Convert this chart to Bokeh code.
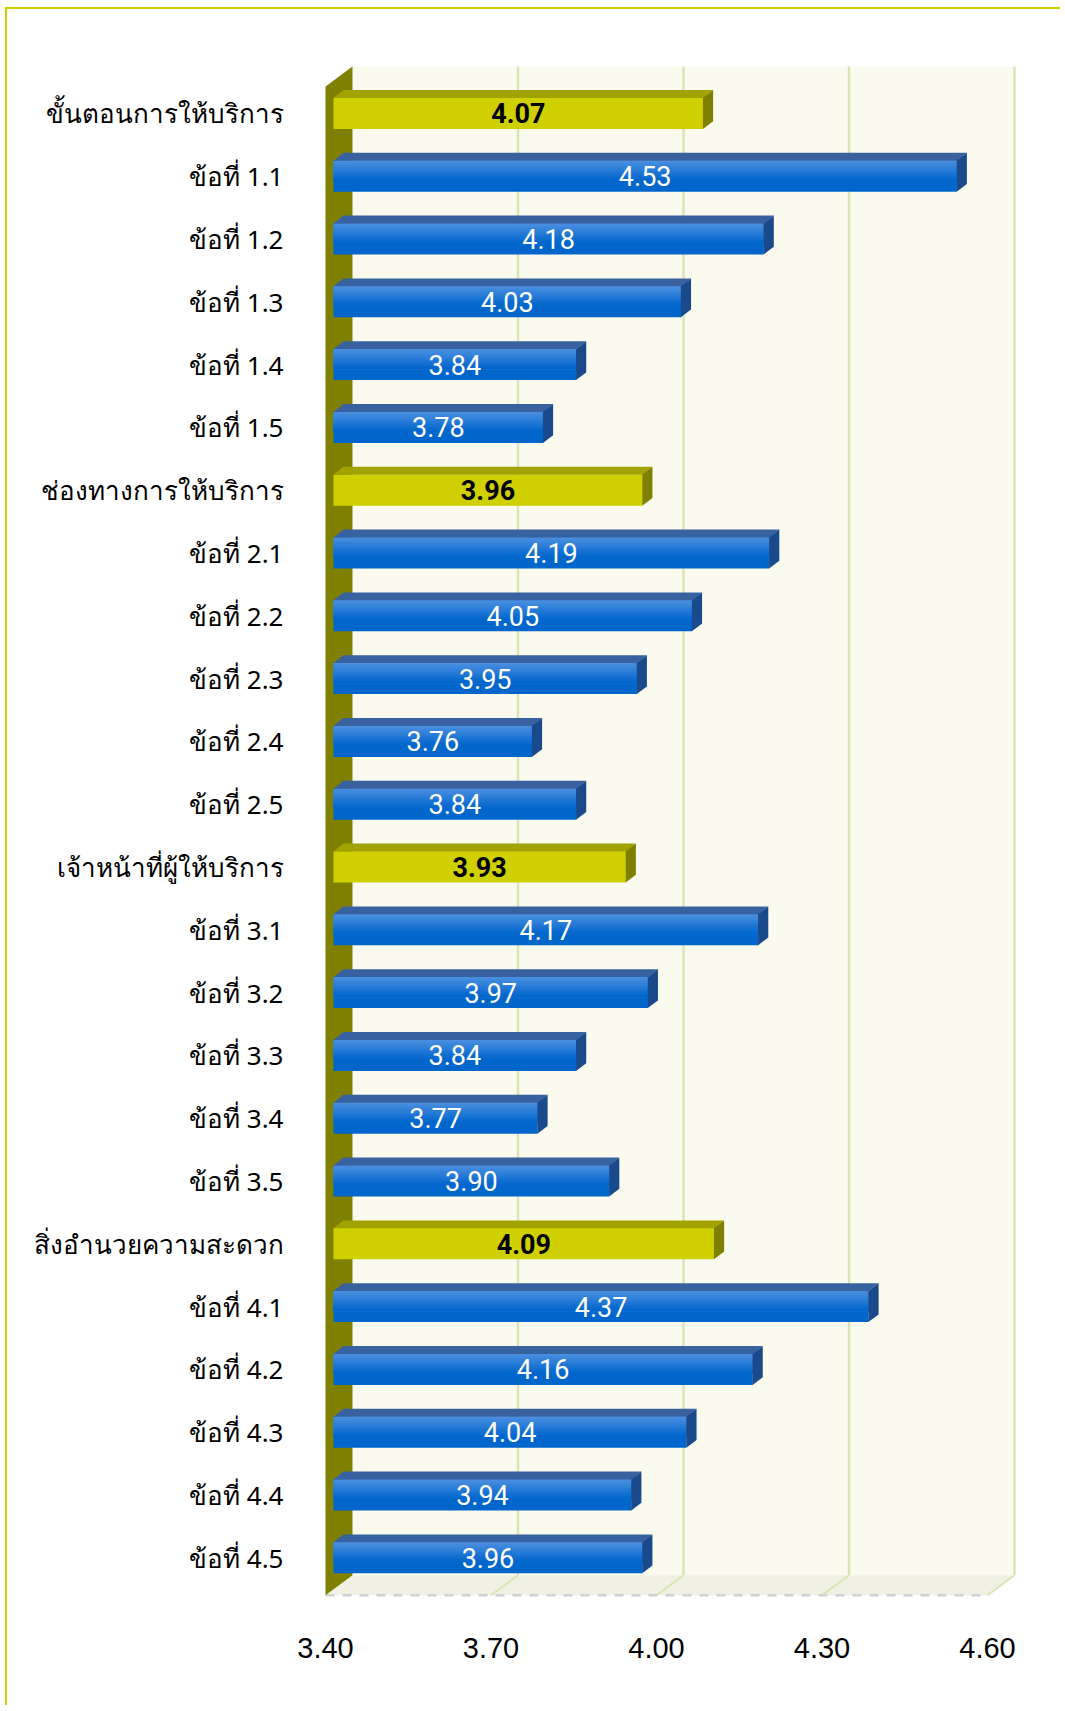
from bokeh.plotting import figure
from bokeh.models import Range1d, FixedTicker, ColumnDataSource, NumeralTickFormatter
from bokeh.core.properties import value
from bokeh.embed import file_html
from bokeh.resources import INLINE

# ---------------- data ----------------
categories = [
    "ขั้นตอนการให้บริการ", "ข้อที่ 1.1", "ข้อที่ 1.2", "ข้อที่ 1.3", "ข้อที่ 1.4", "ข้อที่ 1.5",
    "ช่องทางการให้บริการ", "ข้อที่ 2.1", "ข้อที่ 2.2", "ข้อที่ 2.3", "ข้อที่ 2.4", "ข้อที่ 2.5",
    "เจ้าหน้าที่ผู้ให้บริการ", "ข้อที่ 3.1", "ข้อที่ 3.2", "ข้อที่ 3.3", "ข้อที่ 3.4", "ข้อที่ 3.5",
    "สิ่งอำนวยความสะดวก", "ข้อที่ 4.1", "ข้อที่ 4.2", "ข้อที่ 4.3", "ข้อที่ 4.4", "ข้อที่ 4.5",
]
scores = [
    4.07, 4.53, 4.18, 4.03, 3.84, 3.78,
    3.96, 4.19, 4.05, 3.95, 3.76, 3.84,
    3.93, 4.17, 3.97, 3.84, 3.77, 3.90,
    4.09, 4.37, 4.16, 4.04, 3.94, 3.96,
]
group_headers = ["ขั้นตอนการให้บริการ", "ช่องทางการให้บริการ", "เจ้าหน้าที่ผู้ให้บริการ", "สิ่งอำนวยความสะดวก"]
x_ticks = [3.40, 3.70, 4.00, 4.30, 4.60]
x_tick_labels = ["3.40", "3.70", "4.00", "4.30", "4.60"]

# ---------------- geometry (pixel based constants -> data units) ----------------
PXX = (x_ticks[1] - x_ticks[0]) / 165.5   # data units per pixel (x)
PXY = 1 / 62.8                             # category units per pixel (y)
X0, X1 = x_ticks[0], x_ticks[-1]
n = len(categories)

DEPTH_X, DEPTH_Y = 27 * PXX, 20 * PXY       # wall depth
BAR_OFF = 8 * PXX                           # bar front offset from front plane
BAR_DX, BAR_DY = 10 * PXX, 7.7 * PXY        # bar depth
HALF = 15.6 * PXY                           # half of bar front height
FLOOR_FRONT = (n - 1) + 37.5 * PXY
FLOOR_BACK = FLOOR_FRONT - DEPTH_Y
WALL_TOP = -46.8 * PXY

W, H = 1060, 1705
FL, FR, FT, FB = 300, 1040, 55, 1600        # frame in canvas px
ORIGIN_X, ORIGIN_Y = 325, 112.8             # canvas px of (X0, first row)
x_start = X0 - (ORIGIN_X - FL) * PXX
x_end = x_start + (FR - FL) * PXX
y_top = -(ORIGIN_Y - FT) * PXY
y_bot = y_top + (FB - FT) * PXY

p = figure(width=W, height=H, output_backend="svg", toolbar_location=None,
           x_range=Range1d(x_start, x_end), y_range=Range1d(y_bot, y_top),
           min_border_left=FL, min_border_right=W - FR, min_border_top=FT, min_border_bottom=H - FB)
p.background_fill_color = "white"
p.border_fill_color = None
p.outline_line_color = None
p.grid.visible = False
p.styles = {"background-color": "white",
            "box-shadow": "inset 5px 7px 0 0 white, inset 7px 9px 0 0 #d0d000"}

# back wall
p.quad(left=[X0 + DEPTH_X], right=[X1 + DEPTH_X], top=[WALL_TOP], bottom=[FLOOR_BACK],
       fill_color="#fafbee", line_color=None)
# back wall grid lines
p.segment(x0=[t + DEPTH_X for t in x_ticks[1:]], y0=[WALL_TOP] * 4,
          x1=[t + DEPTH_X for t in x_ticks[1:]], y1=[FLOOR_BACK] * 4,
          line_color="#d9e4b4", line_width=2.5)
# floor
p.patch(x=[X0, X1, X1 + DEPTH_X, X0 + DEPTH_X], y=[FLOOR_FRONT, FLOOR_FRONT, FLOOR_BACK, FLOOR_BACK],
        fill_color="#f0f1e2", line_color=None)
p.segment(x0=x_ticks[1:], y0=[FLOOR_FRONT] * 4, x1=[t + DEPTH_X for t in x_ticks[1:]], y1=[FLOOR_BACK] * 4,
          line_color="#d9e4b4", line_width=2)
p.line(x=[X0, X1], y=[FLOOR_FRONT, FLOOR_FRONT], line_color="#d2d2d2", line_width=2.5, line_dash="9 8")
# side wall
p.patch(x=[X0, X0 + DEPTH_X, X0 + DEPTH_X, X0],
        y=[WALL_TOP + DEPTH_Y, WALL_TOP, FLOOR_BACK, FLOOR_FRONT],
        fill_color="#808000", line_color=None)

# bars
rows = list(range(n))
is_head = [c in group_headers for c in categories]
left = [X0 + BAR_OFF] * n
right = [v + BAR_OFF for v in scores]

front_col = ["#d0d000" if h else "#0066cc" for h in is_head]
top_col = ["#a3a300" if h else "#3861a0" for h in is_head]
side_col = ["#808000" if h else "#1b4a8c" for h in is_head]

p.quad(left=left, right=right, top=[r - HALF for r in rows], bottom=[r + HALF for r in rows],
       fill_color=front_col, line_color=None)

# gradient on blue fronts (overlapping strips, lighter at the top)
c_top, c_bot = (0x4a, 0x8e, 0xe0), (0x00, 0x66, 0xcc)
NSTRIP = 14
strip_cols = []
for k in range(NSTRIP):
    f = k / (NSTRIP - 1)
    strip_cols.append("#%02x%02x%02x" % tuple(round(a + (b - a) * f) for a, b in zip(c_top, c_bot)))
grad_end = 0.65
sl, sr, st, sb, sc = [], [], [], [], []
for r, h, a, b in zip(rows, is_head, left, right):
    if h:
        continue
    for k, c in enumerate(strip_cols):
        sl.append(a); sr.append(b)
        st.append(r - HALF + k * 2 * HALF * grad_end / NSTRIP)
        sb.append(r - HALF + 2 * HALF * grad_end)
        sc.append(c)
p.quad(left=sl, right=sr, top=st, bottom=sb, fill_color=sc, line_color=None)

# top and side faces
txs, tys, sxs, sys = [], [], [], []
for r, a, b in zip(rows, left, right):
    t = r - HALF
    txs.append([a, b, b + BAR_DX, a + BAR_DX])
    tys.append([t + 0.2 * PXY, t + 0.2 * PXY, t - BAR_DY, t - BAR_DY])
    sxs.append([b - 0.2 * PXX, b + BAR_DX, b + BAR_DX, b - 0.2 * PXX])
    sys.append([t, t - BAR_DY, r + HALF - BAR_DY, r + HALF])
p.patches(xs=txs, ys=tys, fill_color=top_col, line_color=None)
p.patches(xs=sxs, ys=sys, fill_color=side_col, line_color=None)

# value labels
lab_src = ColumnDataSource(dict(
    x=[(a + b) / 2 for a, b in zip(left, right)], y=rows,
    t=["%.2f" % v for v in scores],
    c=["black" if h else "white" for h in is_head],
    w=["bold" if h else "normal" for h in is_head]))
p.text(x="x", y="y", text="t", source=lab_src, text_color="c", text_font_style="w",
       text_align="center", text_baseline="middle",
       text_font=value("Roboto"), text_font_size="27px")

# axes
p.yaxis.ticker = FixedTicker(ticks=rows)
p.yaxis.major_label_overrides = {r: c for r, c in zip(rows, categories)}
p.yaxis.axis_line_color = None
p.yaxis.major_tick_line_color = None
p.yaxis.minor_tick_line_color = None
p.yaxis.major_label_standoff = 11
p.yaxis.major_label_text_font = "Noto Sans"
p.yaxis.major_label_text_font_size = "26px"
p.yaxis.major_label_text_color = "black"

p.xaxis.ticker = FixedTicker(ticks=x_ticks)
p.xaxis.formatter = NumeralTickFormatter(format="0.00")
p.xaxis.major_label_overrides = {t: l for t, l in zip(x_ticks, x_tick_labels)}
p.xaxis.axis_line_color = None
p.xaxis.major_tick_line_color = None
p.xaxis.minor_tick_line_color = None
p.xaxis.major_label_standoff = 31
p.xaxis.major_label_text_font = "Liberation Sans"
p.xaxis.major_label_text_font_size = "29px"
p.xaxis.major_label_text_color = "black"

open("out.html", "w").write(file_html(p, INLINE))
